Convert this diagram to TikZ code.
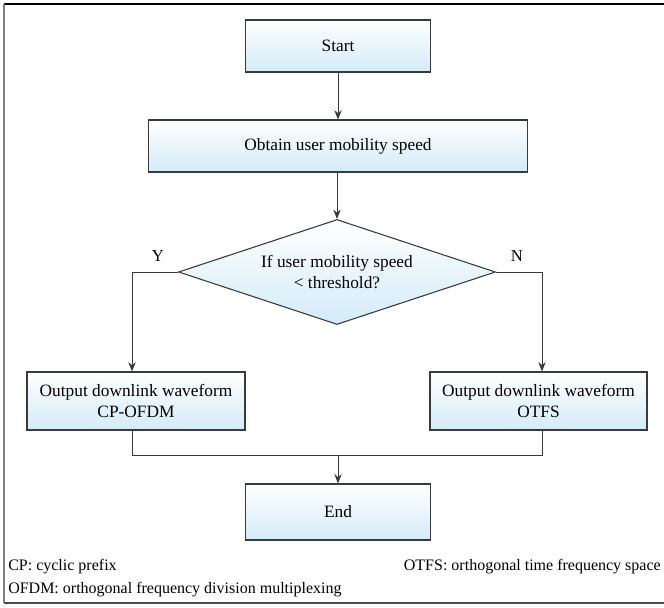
\documentclass[tikz,border=0pt]{standalone}
\usepackage{fontspec}
\setmainfont{Liberation Serif}
\usetikzlibrary{arrows.meta,shapes.geometric}
\definecolor{boxblue}{HTML}{D3EBF8}
\definecolor{linegray}{HTML}{3A3A3A}
\tikzset{
  box/.style={draw=linegray, line width=0.8pt, top color=white, bottom color=boxblue, align=center, inner sep=0pt, font=\fontsize{13}{15.5}\selectfont},
  conn/.style={draw=linegray, line width=0.7pt},
  arr/.style={conn, -{Stealth[length=7pt,width=5.5pt]}},
  lbl/.style={font=\fontsize{12.5}{14}\selectfont, inner sep=0pt},
  leg/.style={font=\fontsize{12}{14}\selectfont, inner sep=0pt},
}
\begin{document}
\begin{tikzpicture}[x=0.75pt,y=-0.75pt]
\useasboundingbox (0,0) rectangle (664,607);
% frame
\draw[line width=1.2pt, black] (4,4) -- (670,4);
\draw[line width=1.6pt, gray] (4,4) -- (4,603);
\draw[line width=1.2pt, gray!60!black] (4,603) -- (670,603);
% nodes
\node[box, minimum width=185*0.75pt, minimum height=52*0.75pt] (start) at (338,46) {Start};
\node[box, minimum width=379*0.75pt, minimum height=52*0.75pt] (obtain) at (338,146) {Obtain user mobility speed};
\node[box, diamond, aspect=3.03, minimum width=317*0.75pt, minimum height=105*0.75pt, inner sep=0pt] (dec) at (337,272) {If user mobility speed\\ < threshold?};
\node[box, minimum width=218*0.75pt, minimum height=58*0.75pt] (yes) at (136,401) {Output downlink waveform\\ CP-OFDM};
\node[box, minimum width=217*0.75pt, minimum height=58*0.75pt] (no) at (538.5,401) {Output downlink waveform\\ OTFS};
\node[box, minimum width=185*0.75pt, minimum height=56*0.75pt] (end) at (338,512) {End};
\coordinate (lt) at (132,272);
\coordinate (rt) at (542,272);
\coordinate (jl) at (132,455);
\coordinate (jr) at (542,455);
\coordinate (jm) at (338,455);
% connectors
\draw[arr] (start) -- (obtain);
\draw[arr] (obtain.south -| dec.north) -- (dec.north);
\draw[arr] (dec.west) -- (lt) -- (lt |- yes.north);
\draw[arr] (dec.east) -- (rt) -- (rt |- no.north);
\draw[conn] (jl |- yes.south) -- (jl) -- (jr) -- (jr |- no.south);
\draw[arr] (jm) -- (end.north);
% labels
\node[lbl] (ylab) at (158,256) {Y};
\node[lbl] (nlab) at (517,256) {N};
\node[leg, anchor=west] (l1) at (8,567) {CP: cyclic prefix};
\node[leg, anchor=west] (l2) at (8,590) {OFDM: orthogonal frequency division multiplexing};
\node[leg, anchor=east] (l3) at (661,567) {OTFS: orthogonal time frequency space};
\end{tikzpicture}
\end{document}
